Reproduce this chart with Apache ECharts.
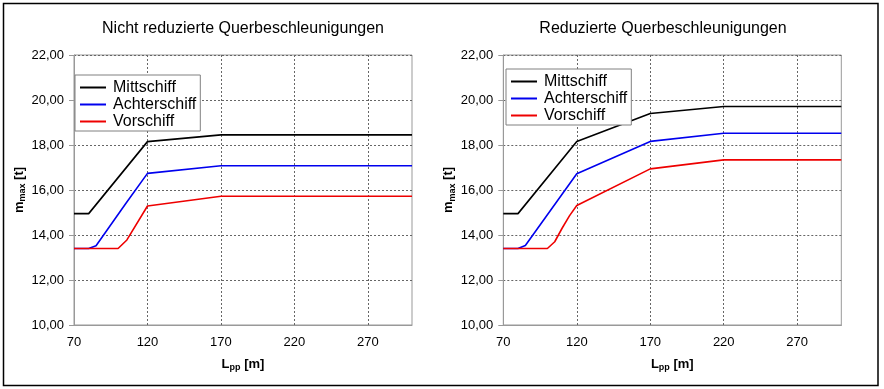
<!DOCTYPE html>
<html>
<head>
<meta charset="utf-8">
<script src="https://cdn.jsdelivr.net/npm/echarts@6/dist/echarts.min.js"></script>
<style>
html,body{margin:0;padding:0;background:#fff;}
#c{width:884px;height:389px;}
</style>
</head>
<body>
<div id="c"></div>
<script>
// ---- data ----
var seriesNames = ['Mittschiff', 'Achterschiff', 'Vorschiff'];
var xTickLabels = [70, 120, 170, 220, 270];
var yTickLabels = [10, 12, 14, 16, 18, 20, 22];

// Left chart: Nicht reduzierte Querbeschleunigungen
var leftMittX = [70, 80, 120, 170, 300];
var leftMittY = [14.95, 14.95, 18.15, 18.45, 18.45];
var leftAchtX = [70, 80, 85, 105, 120, 170, 300];
var leftAchtY = [13.4, 13.4, 13.52, 15.38, 16.74, 17.08, 17.08];
var leftVorX = [70, 100, 106, 120, 170, 300];
var leftVorY = [13.4, 13.4, 13.78, 15.29, 15.72, 15.72];

// Right chart: Reduzierte Querbeschleunigungen
var rightMittX = [70, 80, 120, 170, 220, 300];
var rightMittY = [14.95, 14.95, 18.16, 19.4, 19.71, 19.71];
var rightAchtX = [70, 80, 85, 120, 170, 220, 300];
var rightAchtY = [13.4, 13.4, 13.53, 16.72, 18.16, 18.52, 18.52];
var rightVorX = [70, 100, 105, 110, 115, 120, 170, 220, 300];
var rightVorY = [13.4, 13.4, 13.7, 14.3, 14.85, 15.31, 16.94, 17.34, 17.34];

var colors = ['#000000', '#0000ee', '#ee0000'];

function pairs(xs, ys) { return xs.map(function (x, i) { return [x, ys[i]]; }); }

var chart = echarts.init(document.getElementById('c'), null, { renderer: 'canvas' });

var grids = [
  { left: 74, top: 55, width: 338, height: 270 },
  { left: 503.3, top: 55, width: 338, height: 270 }
];

var font = 'Liberation Sans, Arial, sans-serif';

function xAxis(i) {
  return {
    type: 'value', gridIndex: i, min: 70, max: 300,
    name: '{a|L}{b|pp}{a| [m]}', nameLocation: 'middle', nameGap: 31,
    nameTextStyle: {
      rich: {
        a: { fontFamily: font, fontSize: 13, fontWeight: 'bold', color: '#000', lineHeight: 16, verticalAlign: 'middle' },
        b: { fontFamily: font, fontSize: 9, fontWeight: 'bold', color: '#000', lineHeight: 16, verticalAlign: 'bottom', padding: [6, 0, 0, 0] }
      }
    },
    axisLine: { show: true, onZero: false, lineStyle: { color: '#999', width: 1 } },
    axisTick: { show: false, customValues: xTickLabels },
    axisLabel: { customValues: xTickLabels, fontFamily: font, fontSize: 13, color: '#000', margin: 11 },
    splitLine: { show: true, lineStyle: { color: '#666', type: [2, 2], width: 1 } }
  };
}
function yAxis(i, gap) {
  return {
    type: 'value', gridIndex: i, min: 10, max: 22, interval: 2,
    name: '{a|m}{b|max}{a| [t]}', nameLocation: 'middle', nameGap: gap,
    nameTextStyle: {
      rich: {
        a: { fontFamily: font, fontSize: 13, fontWeight: 'bold', color: '#000', lineHeight: 16, verticalAlign: 'middle' },
        b: { fontFamily: font, fontSize: 9, fontWeight: 'bold', color: '#000', lineHeight: 16, verticalAlign: 'bottom', padding: [6, 0, 0, 0] }
      }
    },
    axisLine: { show: true, lineStyle: { color: '#999', width: 1 } },
    axisTick: { show: true, inside: false, length: 5, lineStyle: { color: '#999' } },
    axisLabel: {
      fontFamily: font, fontSize: 13, color: '#000', margin: 10,
      formatter: function (v) { return v.toFixed(2).replace('.', ','); }
    },
    splitLine: { show: true, lineStyle: { color: '#666', type: [2, 2], width: 1 } }
  };
}

function lineSeries(name, i, data, color) {
  return {
    name: name, type: 'line', xAxisIndex: i, yAxisIndex: i,
    data: data, showSymbol: false, symbol: 'none', color: color,
    lineStyle: { color: color, width: 1.6 }, animation: false
  };
}

function legend(left, top) {
  return {
    data: seriesNames, orient: 'vertical', left: left, top: top,
    icon: 'rect', itemWidth: 26, itemHeight: 2, itemGap: 0,
    backgroundColor: '#fff', borderColor: '#808080', borderWidth: 1, borderRadius: 0,
    padding: [4, 4, 1, 5], selectedMode: false,
    textStyle: { fontFamily: font, fontSize: 16, color: '#000', lineHeight: 17, padding: [0, 0, 0, 2] }
  };
}

var option = {
  animation: false,
  backgroundColor: '#fff',
  grid: grids.map(function (g) {
    return Object.assign({ show: true, borderColor: '#999', borderWidth: 1, backgroundColor: 'transparent' }, g);
  }),
  xAxis: [xAxis(0), xAxis(1)],
  yAxis: [yAxis(0, 47), yAxis(1, 44)],
  legend: [legend(75, 75), legend(506, 69)],
  series: [
    lineSeries(seriesNames[0], 0, pairs(leftMittX, leftMittY), colors[0]),
    lineSeries(seriesNames[1], 0, pairs(leftAchtX, leftAchtY), colors[1]),
    lineSeries(seriesNames[2], 0, pairs(leftVorX, leftVorY), colors[2]),
    lineSeries(seriesNames[0], 1, pairs(rightMittX, rightMittY), colors[0]),
    lineSeries(seriesNames[1], 1, pairs(rightAchtX, rightAchtY), colors[1]),
    lineSeries(seriesNames[2], 1, pairs(rightVorX, rightVorY), colors[2])
  ],
  graphic: [
    { type: 'rect', shape: { x: 3.5, y: 3.5, width: 874.5, height: 382 }, style: { fill: 'none', stroke: '#000', lineWidth: 1.5 }, z: 100, silent: true },
    { type: 'text', x: 243, y: 29, style: { text: 'Nicht reduzierte Querbeschleunigungen', fontFamily: font, fontSize: 16, fill: '#000', textAlign: 'center', textVerticalAlign: 'middle' }, silent: true },
    { type: 'text', x: 663, y: 29, style: { text: 'Reduzierte Querbeschleunigungen', fontFamily: font, fontSize: 16, fill: '#000', textAlign: 'center', textVerticalAlign: 'middle' }, silent: true }
  ]
};
chart.setOption(option);
</script>
</body>
</html>
